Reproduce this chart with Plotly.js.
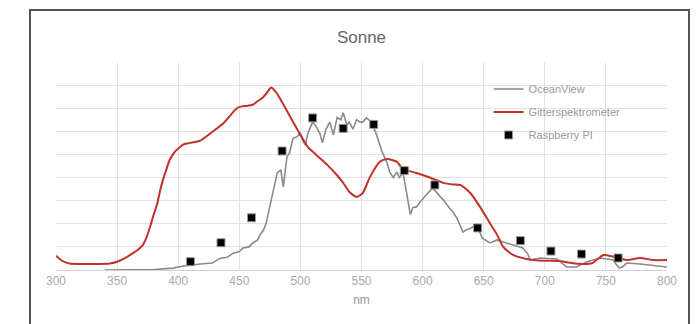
<!DOCTYPE html>
<html>
<head>
<meta charset="utf-8">
<script src="https://cdn.plot.ly/plotly-3.0.1.min.js"></script>
<style>
  html, body { margin: 0; padding: 0; background: #fff; }
  #chart { width: 699px; height: 324px; position: absolute; left: 0; top: 0; }
  #frame { position: absolute; left: 29px; top: 9px; width: 657px; height: 330px; border: 2px solid #555; pointer-events: none; }
</style>
</head>
<body>
<div id="chart"></div>
<div id="frame"></div>
<script>
const chartTitle = "Sonne";
const xAxisTitle = "nm";
const xTickValues = [300, 350, 400, 450, 500, 550, 600, 650, 700, 750, 800];

const oceanViewNm = [340, 360, 380, 396, 404, 418, 428, 434, 440, 445, 450, 453, 458, 461, 465, 467, 470, 472, 474, 476, 479, 481, 484, 486, 489, 491, 494, 497, 500, 502, 504, 506, 508, 510, 513, 516, 518, 521, 524, 527, 530, 533, 535, 538, 540, 543, 546, 549, 551, 554, 556, 559, 562, 565, 567, 571, 573, 576, 579, 581, 584, 587, 590, 592, 595, 598, 603, 608, 611, 617, 622, 625, 628, 633, 636, 639, 644, 649, 655, 661, 666, 674, 682, 686, 688, 696, 703, 710, 714, 718, 726, 734, 745, 756, 759, 761, 764, 767, 778, 790, 800];
const oceanViewVal = [0, 0, 0.02, 0.08, 0.17, 0.26, 0.3, 0.5, 0.55, 0.73, 0.8, 0.95, 1.0, 1.17, 1.3, 1.52, 1.75, 2.03, 2.5, 3.0, 3.8, 4.2, 4.33, 3.6, 4.9, 5.06, 5.7, 5.76, 5.9, 5.6, 5.4, 5.9, 6.15, 6.4, 6.2, 5.9, 5.5, 6.1, 6.4, 5.85, 6.6, 6.5, 6.8, 6.28, 6.4, 6.1, 6.5, 6.4, 6.4, 6.58, 6.5, 6.28, 5.9, 5.4, 5.1, 4.63, 4.24, 4.0, 4.24, 4.0, 4.2, 3.3, 2.4, 2.7, 2.73, 2.94, 3.25, 3.55, 3.38, 3.03, 2.68, 2.5, 2.25, 1.64, 1.75, 1.8, 1.95, 1.38, 1.17, 1.3, 1.21, 1.08, 0.95, 0.7, 0.43, 0.52, 0.5, 0.48, 0.3, 0.13, 0.13, 0.35, 0.52, 0.43, 0.2, 0.08, 0.15, 0.3, 0.26, 0.2, 0.13];

const gitterNm = [300, 305, 311, 320, 335, 344, 350, 356, 363, 367, 371, 374, 377, 380, 383, 385, 387.5, 390, 393, 397, 401, 405, 410, 418, 426, 437, 448, 452, 456, 461, 465, 469, 473, 476, 480, 484, 492, 500, 506, 513, 522, 530, 535, 540, 546, 551, 557, 565, 571, 579, 584, 595, 606, 617, 625, 631, 639, 647, 655, 661, 666, 674, 685, 699, 712, 722, 731, 739, 748, 756, 767, 778, 789, 800];
const gitterVal = [0.62, 0.4, 0.28, 0.26, 0.26, 0.28, 0.36, 0.5, 0.73, 0.88, 1.08, 1.4, 1.87, 2.4, 2.9, 3.4, 3.9, 4.3, 4.76, 5.1, 5.3, 5.45, 5.5, 5.6, 5.9, 6.35, 7.0, 7.08, 7.1, 7.15, 7.3, 7.45, 7.7, 7.9, 7.7, 7.36, 6.6, 5.85, 5.33, 4.98, 4.55, 4.1, 3.77, 3.38, 3.16, 3.33, 4.03, 4.68, 4.8, 4.68, 4.37, 4.2, 4.0, 3.77, 3.7, 3.68, 3.33, 2.73, 2.03, 1.52, 1.0, 0.65, 0.48, 0.4, 0.39, 0.3, 0.26, 0.3, 0.65, 0.58, 0.43, 0.52, 0.43, 0.43];

const raspberryNm = [410, 435, 460, 485, 510, 535, 560, 585, 610, 645, 680, 705, 730, 760];
const raspberryVal = [0.36, 1.18, 2.26, 5.15, 6.58, 6.13, 6.3, 4.3, 3.68, 1.82, 1.27, 0.82, 0.69, 0.52];

const fontFam = "'Liberation Sans', Arial, sans-serif";

const traces = [
  {
    x: oceanViewNm, y: oceanViewVal, name: "OceanView", type: "scatter", mode: "lines",
    line: { color: "#8a8a8a", width: 1.6 }, legendgroup: "a"
  },
  {
    x: gitterNm, y: gitterVal, name: "Gitterspektrometer", type: "scatter", mode: "lines",
    line: { color: "#c0322a", width: 2, shape: "spline", smoothing: 0.6 }, legendgroup: "b"
  },
  {
    x: raspberryNm, y: raspberryVal, name: "Raspberry PI", type: "scatter", mode: "markers",
    marker: { symbol: "square", size: 8, color: "#000", line: { color: "#999", width: 1 } }, legendgroup: "c"
  }
];

const layout = {
  width: 699, height: 324,
  margin: { l: 56, r: 32, t: 62, b: 54 },
  paper_bgcolor: "#fff", plot_bgcolor: "#fff",
  font: { family: fontFam, color: "#999", size: 12 },
  title: { text: chartTitle, font: { family: fontFam, size: 17, color: "#666" }, x: 0.5, xref: "paper", y: 0.886, yref: "container", yanchor: "middle" },
  xaxis: {
    range: [300, 800], tickvals: xTickValues, ticktext: xTickValues.map(String),
    showgrid: true, gridcolor: "#e3e3e3", gridwidth: 1,
    zeroline: false, showline: true, linecolor: "#d0d0d0", linewidth: 1,
    ticks: "", tickfont: { size: 12, color: "#aaa" },
    title: { text: xAxisTitle, font: { size: 12, color: "#999" }, standoff: 8 }
  },
  yaxis: {
    range: [0, 9], dtick: 1, showticklabels: false, showgrid: true, gridcolor: "#e3e3e3", gridwidth: 1,
    zeroline: false, showline: false, ticks: "", fixedrange: true
  },
  showlegend: true,
  legend: {
    x: 0.708, y: 0.94, xanchor: "left", yanchor: "top",
    bgcolor: "rgba(0,0,0,0)", font: { size: 11, color: "#999" },
    tracegroupgap: 4, itemwidth: 30
  }
};

Plotly.newPlot("chart", traces, layout, { staticPlot: true, displayModeBar: false });
</script>
</body>
</html>
